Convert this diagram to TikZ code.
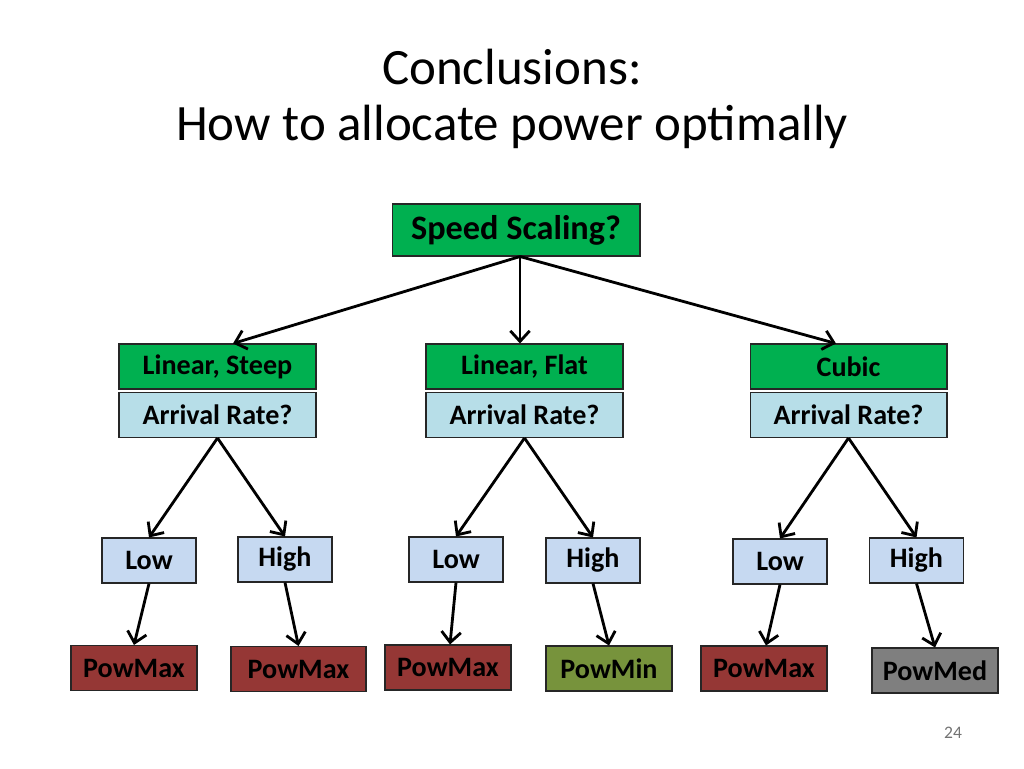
\documentclass[tikz,border=0pt]{standalone}
\usepackage{fontspec}
\setmainfont{Carlito}
\usetikzlibrary{arrows.meta,calc}

\definecolor{qgreen}{HTML}{00B050}
\definecolor{qrate}{HTML}{B7DEE8}
\definecolor{qlevel}{HTML}{C6D9F1}
\definecolor{qmax}{HTML}{953735}
\definecolor{qmin}{HTML}{77933C}
\definecolor{qmed}{HTML}{7F7F7F}

\begin{document}
\begin{tikzpicture}[x=0.02cm,y=-0.02cm,
  box/.style={draw=black!85,line width=0.6pt,inner sep=0pt,
    font=\fontsize{16}{19}\selectfont\bfseries},
  wide/.style={box,minimum width=3.94cm,minimum height=0.9cm},
  small/.style={box,minimum width=1.88cm,minimum height=0.9cm,fill=qlevel},
  leaf/.style={box,minimum width=2.52cm,minimum height=0.9cm},
  arr/.style={-{Straight Barb[length=6pt,width=11pt]},line width=1.6pt}]
\useasboundingbox (0,0) rectangle (1024,768);

% Title.
\node (t1) at (512,67) {\fontsize{29}{34}\selectfont Conclusions:};
\node (t2) at (512,127) {\fontsize{29}{34}\selectfont How to allocate power optimally};

% Root and the three cost curves.
\node[box,fill=qgreen,minimum width=4.96cm,minimum height=1.04cm,
  font=\fontsize{19.5}{23}\selectfont\bfseries] (ss) at (516,230) {Speed Scaling?};

\node[wide,fill=qgreen] (ls) at (217.5,366.5) {Linear, Steep};
\node[wide,fill=qrate]  (ra) at (217.5,415) {Arrival Rate?};
\node[wide,fill=qgreen] (lf) at (524.5,366.5) {Linear, Flat};
\node[wide,fill=qrate]  (rb) at (524.5,415) {Arrival Rate?};
\node[wide,fill=qgreen] (cu) at (848.5,366.5) {Cubic};
\node[wide,fill=qrate]  (rc) at (848.5,415) {Arrival Rate?};

% Arrival rates.
\node[small] (la) at (149,560.5) {Low};
\node[small] (ha) at (285,559.5) {High};
\node[small] (lb) at (456,559.5) {Low};
\node[small] (hb) at (593,560.5) {High};
\node[small] (lc) at (780,561.5) {Low};
\node[small] (hc) at (916.5,560.5) {High};

% Policies.
\node[leaf,fill=qmax] (pa) at (134,668) {PowMax};
\node[leaf,fill=qmax,minimum width=2.7cm] (pb) at (298.5,669) {PowMax};
\node[leaf,fill=qmax] (pc) at (448,667.5) {PowMax};
\node[leaf,fill=qmin] (pd) at (609,668.5) {PowMin};
\node[leaf,fill=qmax] (pe) at (764,668.5) {PowMax};
\node[leaf,fill=qmed] (pf) at (935,670.5) {PowMed};

\node[text=black!55,font=\fontsize{10}{12}\selectfont] (pg) at (953,733) {24};

\draw[arr] ([xshift=4*0.02cm]ss.south) -- ([xshift=15.5*0.02cm]ls.north);
\draw[arr] ([xshift=4*0.02cm]ss.south) -- ([xshift=-4.5*0.02cm]lf.north);
\draw[arr] ([xshift=4*0.02cm]ss.south) -- ([xshift=-12.5*0.02cm]cu.north);

\draw[arr] (ra.south) -- (la.north);
\draw[arr] (ra.south) -- (ha.north);
\draw[arr] (rb.south) -- (lb.north);
\draw[arr] (rb.south) -- (hb.north);
\draw[arr] (rc.south) -- (lc.north);
\draw[arr] (rc.south) -- (hc.north);

\draw[arr] (la.south) -- (pa.north);
\draw[arr] (ha.south) -- (pb.north);
\draw[arr] (lb.south) -- ([xshift=2*0.02cm]pc.north);
\draw[arr] (hb.south) -- (pd.north);
\draw[arr] (lc.south) -- ([xshift=2*0.02cm]pe.north);
\draw[arr] (hc.south) -- (pf.north);
\end{tikzpicture}
\end{document}
